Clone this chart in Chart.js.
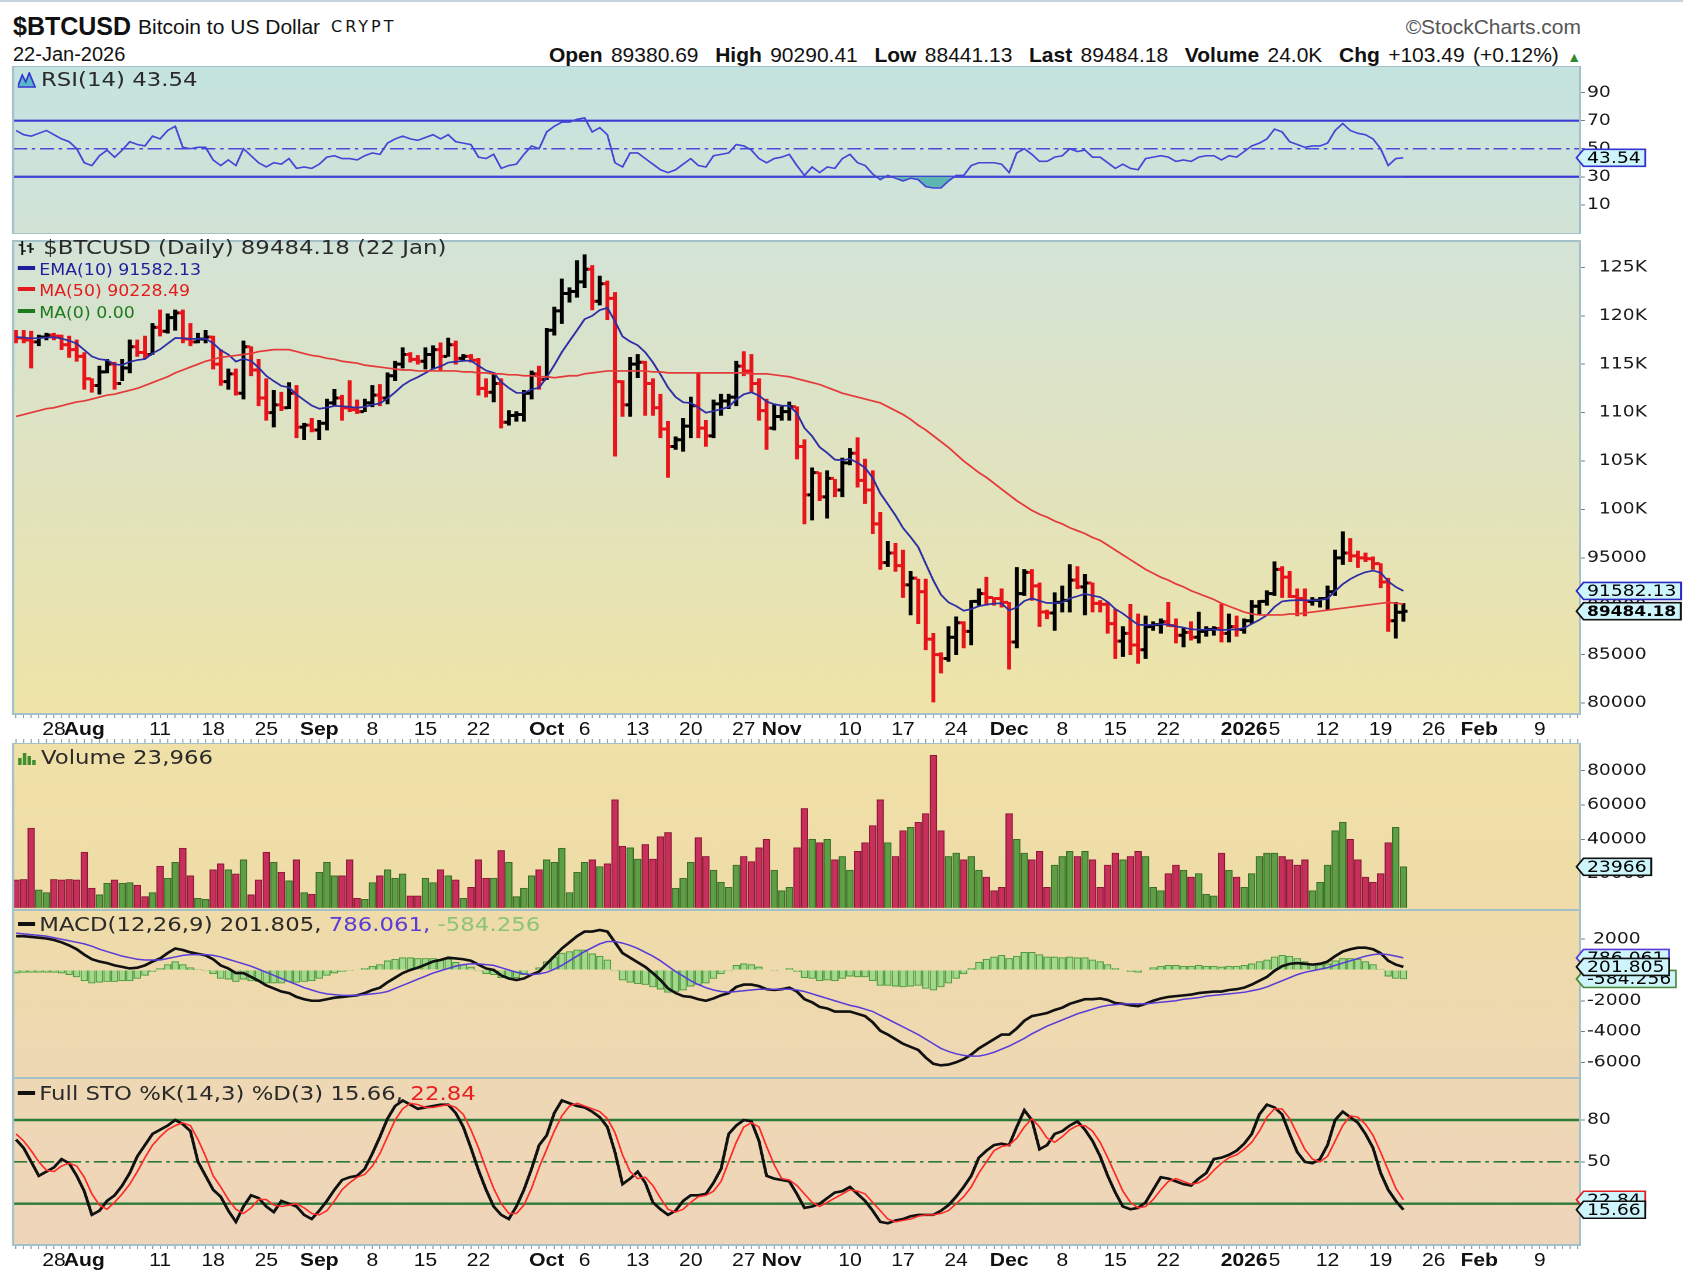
<!DOCTYPE html>
<html><head><meta charset="utf-8">
<script src="https://cdn.jsdelivr.net/npm/chart.js@4.4.1/dist/chart.umd.min.js"></script>
<style>
html,body{margin:0;padding:0;background:#fff}
body{width:1683px;height:1272px;position:relative;overflow:hidden;font-family:"Liberation Sans",Arial,sans-serif;color:#111}
#topline{position:absolute;left:0;top:0;width:1683px;height:2px;background:#c6d4dd}
.hdr{position:absolute;white-space:nowrap;line-height:1}
.hdr b{font-weight:bold}
#stage{position:absolute;left:0;top:0;width:1438px;height:1272px;transform-origin:0 0}
#stage canvas{position:absolute;left:0}
.lg{position:absolute;white-space:nowrap;font-family:"DejaVu Sans",sans-serif;font-size:19.5px;line-height:1;color:#2a2a2a}
.lg.sm{font-family:"DejaVu Sans Condensed","DejaVu Sans",sans-serif;font-size:16.5px}
.dash{display:inline-block;width:15px;height:4px;vertical-align:5px;margin-right:4px}
.lg svg{vertical-align:-2px}
</style></head><body>
<div id="topline"></div>
<div class="hdr" style="left:13px;top:14px;font-size:25px;font-weight:bold">$BTCUSD</div>
<div class="hdr" style="left:138px;top:16px;font-size:21px">Bitcoin to US Dollar</div>
<div class="hdr" style="left:331px;top:19px;font-family:'DejaVu Sans';font-size:16px;letter-spacing:3px">CRYPT</div>
<div class="hdr" style="right:102px;top:16px;font-size:21px;color:#555">©StockCharts.com</div>
<div class="hdr" style="left:13px;top:44px;font-size:20px">22-Jan-2026</div>
<div class="hdr" style="right:102px;top:44px;font-size:21px;word-spacing:2.5px"><b>Open</b> 89380.69&nbsp;&nbsp;<b>High</b> 90290.41&nbsp;&nbsp;<b>Low</b> 88441.13&nbsp;&nbsp;<b>Last</b> 89484.18&nbsp;&nbsp;<b>Volume</b> 24.0K&nbsp;&nbsp;<b>Chg</b> +103.49 (+0.12%) <span style="color:#2e8b2e;font-size:14px">▲</span></div>

<div id="stage">
  <canvas id="cRsi" width="1438" height="168" style="top:66px"></canvas>
  <canvas id="cPrice" width="1438" height="509" style="top:234px"></canvas>
  <canvas id="cVol" width="1438" height="167" style="top:743px"></canvas>
  <canvas id="cMacd" width="1438" height="168" style="top:910px"></canvas>
  <canvas id="cSto" width="1438" height="194" style="top:1078px"></canvas>

  <div class="lg" style="left:15px;top:70px"><svg width="16" height="16" style="margin-right:4px"><polygon points="0,15 4,3 7,10 10,1 15,15" fill="#5ab9c9" stroke="#3636cf" stroke-width="1.5"/></svg>RSI(14) 43.54</div>
  <div class="lg" style="left:15px;top:238px"><svg width="16" height="16" style="margin-right:6px"><path d="M4 1V15M1 5H4M4 11H7M11 3V13M8 6H11M11 9H14" stroke="#111" stroke-width="1.6" fill="none"/></svg>$BTCUSD (Daily) 89484.18 (22 Jan)</div>
  <div class="lg sm" style="left:14.5px;top:262px;color:#1e1e9c"><span class="dash" style="background:#1e1e9c"></span>EMA(10) 91582.13</div>
  <div class="lg sm" style="left:14.5px;top:283px;color:#e21c1c"><span class="dash" style="background:#e21c1c"></span>MA(50) 90228.49</div>
  <div class="lg sm" style="left:14.5px;top:305px;color:#1d7a1d"><span class="dash" style="background:#1d7a1d"></span>MA(0) 0.00</div>
  <div class="lg" style="left:15px;top:748px"><svg width="16" height="16" style="margin-right:4px"><path d="M2 15V8M6 15V3M10 15V6M14 15V10" stroke="#3f8f2f" stroke-width="3"/></svg>Volume 23,966</div>
  <div class="lg" style="left:14.5px;top:915px"><span class="dash" style="background:#111"></span>MACD(12,26,9) 201.805, <span style="color:#5a3cd8">786.061,</span> <span style="color:#8cc57a">-584.256</span></div>
  <div class="lg" style="left:14.5px;top:1084px"><span class="dash" style="background:#111"></span>Full STO %K(14,3) %D(3) 15.66, <span style="color:#e82020">22.84</span></div>
</div>

<script>
// ================= DATA =================
// Daily bars, index 0 = 23-Jul-2025 ... index 183 = 22-Jan-2026
const dayCount = 184;
const tickDays = [5,9,19,26,33,40,47,54,61,70,75,82,89,96,101,110,117,124,131,138,145,152,162,166,173,180,187,193,201];
const tickText = ["28","Aug","11","18","25","Sep","8","15","22","Oct","6","13","20","27","Nov","10","17","24","Dec","8","15","22","2026","5","12","19","26","Feb","9"];
const boldTicks = ["Aug","Sep","Oct","Nov","Dec","2026","Feb"];
const priceTicks = [80,85,90,95,100,105,110,115,120,125];   // USD thousands
const rsiTicks = [10,30,50,70,90];
const volTicks = [20000,40000,60000,80000];
const macdTicks = [-6000,-4000,-2000,0,2000];
const stoTicks = [20,50,80];

// prices in USD thousands
const openK = [
118.0,117.7,117.5,117.3,117.8,118.0,117.9,117.0,116.5,115.8,
113.5,112.8,114.2,115.0,113.0,114.6,116.8,116.2,116.0,118.8,
118.4,119.8,120.3,117.6,117.3,117.6,117.8,115.0,113.2,114.0,
112.0,116.8,114.4,111.5,110.0,110.8,110.5,112.0,108.5,108.7,
108.2,108.9,111.0,111.5,110.5,110.3,110.1,111.0,111.8,111.5,
113.8,115.0,116.0,115.5,115.3,116.0,116.5,115.8,117.0,115.6,
115.8,115.4,112.5,112.1,113.0,109.0,109.7,109.8,112.0,114.0,
113.4,118.5,120.5,122.3,122.5,123.5,124.8,121.5,123.3,121.8,
113.2,110.8,115.0,115.2,113.0,110.5,108.3,106.5,107.2,108.6,
110.7,108.4,107.6,110.9,111.2,111.6,114.8,114.3,113.0,110.2,
108.4,109.6,110.1,110.6,106.5,101.5,103.8,101.3,103.2,102.0,
104.8,105.8,103.0,102.0,98.5,94.5,95.5,94.2,92.2,92.9,
91.5,86.6,85.0,84.6,86.8,88.3,87.4,90.5,91.3,90.9,
90.8,90.4,86.3,91.3,93.5,92.1,89.4,89.3,90.4,90.6,
92.7,92.0,92.4,90.3,90.2,88.2,86.4,87.2,86.0,85.5,
87.9,88.1,88.4,88.0,87.0,87.3,86.8,87.4,87.6,87.7,
87.2,87.9,87.6,88.5,90.0,90.5,91.3,93.8,93.0,91.0,
90.8,90.5,90.6,90.8,91.5,95.0,95.5,95.2,95.0,94.9,
94.4,92.5,88.5,89.38069];
const highK = [
118.5,118.5,118.4,118.0,118.2,118.2,118.0,117.9,117.5,116.2,
113.5,114.8,115.5,115.2,115.5,117.5,117.5,117.9,119.2,120.6,
120.2,120.6,120.6,119.2,118.2,118.5,117.9,116.5,114.5,114.5,
117.4,116.8,115.5,113.5,112.3,112.1,113.1,112.8,108.9,109.4,
109.2,111.4,112.4,111.8,113.3,111.3,111.4,112.8,112.9,114.1,
115.3,116.7,116.2,115.9,116.7,116.9,117.2,117.7,117.4,116.0,
116.0,115.6,113.5,114.1,113.5,110.2,110.1,112.3,114.3,114.8,
118.7,120.9,123.8,122.9,125.7,126.3,125.2,124.1,123.6,122.4,
113.3,115.7,116.0,115.3,113.5,111.9,109.1,107.5,109.4,111.6,
114.1,109.2,111.3,111.9,111.9,115.3,116.3,116.0,113.5,111.4,
110.9,110.6,111.1,110.6,107.2,104.3,103.8,104.0,103.1,105.3,
106.3,107.4,105.2,104.0,99.7,96.7,96.5,95.8,93.6,92.8,
92.8,87.2,85.2,87.9,88.9,88.4,90.6,91.8,93.0,90.9,
91.8,90.4,94.0,93.8,93.8,92.4,89.6,91.4,92.1,94.3,
94.1,93.3,92.4,90.6,90.4,89.7,87.9,90.2,89.2,89.0,
88.4,88.7,90.4,88.7,87.7,88.4,89.4,87.9,87.9,90.2,
89.2,89.0,88.7,90.6,90.6,91.6,94.6,94.1,93.6,91.8,
91.8,90.9,90.9,92.1,95.8,97.7,97.0,95.7,95.5,95.1,
94.4,92.9,90.4,90.29041];
const lowK = [
117.2,117.2,114.6,116.9,117.5,117.5,116.5,115.7,115.3,112.4,
112.1,111.9,114.1,112.4,113.3,114.1,115.8,115.6,116.0,117.9,
118.2,118.5,117.2,116.9,117.2,117.2,114.5,112.8,112.4,111.8,
111.4,113.8,110.7,109.2,108.5,110.2,110.4,107.4,107.2,108.0,
107.2,108.2,110.7,109.2,110.1,109.9,110.1,110.6,110.7,110.9,
113.3,114.6,115.2,115.0,114.5,114.5,114.3,115.8,115.0,115.3,
115.2,111.8,111.6,111.1,108.4,108.7,109.1,109.1,111.4,112.4,
113.4,118.0,119.2,121.4,121.9,122.9,120.6,121.1,119.6,105.5,
109.6,109.6,113.6,109.7,109.7,107.4,103.3,106.2,106.0,107.4,
107.4,106.5,107.4,109.7,110.4,110.7,113.8,112.1,109.2,106.2,
108.2,109.2,109.2,105.2,98.5,98.9,100.9,99.1,101.3,101.3,
104.6,102.3,100.6,97.5,93.8,94.1,93.6,90.9,89.1,88.2,
85.5,80.1,83.1,84.3,85.0,85.7,86.0,90.1,90.1,90.1,
89.9,83.5,85.7,91.1,90.6,87.9,88.7,87.5,89.4,89.4,
91.8,89.1,89.4,89.4,87.2,84.6,84.8,85.0,84.1,84.6,
87.5,87.2,87.9,86.2,85.8,86.5,86.2,86.9,87.0,86.3,
86.3,86.9,87.2,88.2,89.2,90.1,91.1,90.9,90.9,89.0,
89.0,90.1,89.9,89.7,91.1,94.3,94.6,94.0,94.6,93.8,
91.9,87.4,86.7,88.44113];
const closeK = [
117.7,117.5,117.3,117.8,118.0,117.9,117.0,116.5,115.8,113.5,
112.8,114.2,115.0,113.0,114.6,116.8,116.2,116.0,118.8,118.4,
119.8,120.3,117.6,117.3,117.6,117.8,115.0,113.2,114.0,112.0,
116.8,114.4,111.5,110.0,110.8,110.5,112.0,108.5,108.7,108.2,
108.9,111.0,111.5,110.5,110.3,110.1,111.0,111.8,111.5,113.8,
115.0,116.0,115.5,115.3,116.0,116.5,115.8,117.0,115.6,115.8,
115.4,112.5,112.1,113.0,109.0,109.7,109.8,112.0,114.0,113.4,
118.5,120.5,122.3,122.5,123.5,124.8,121.5,123.3,121.8,113.2,
110.8,115.0,115.2,113.0,110.5,108.3,106.5,107.2,108.6,110.7,
108.4,107.6,110.9,111.2,111.6,114.8,114.3,113.0,110.2,108.4,
109.6,110.1,110.6,106.5,101.5,103.8,101.3,103.2,102.0,104.8,
105.8,103.0,102.0,98.5,94.5,95.5,94.2,92.2,92.9,91.5,
86.6,85.0,84.6,86.8,88.3,87.4,90.5,91.3,90.9,90.8,
90.4,86.3,91.3,93.5,92.1,89.4,89.3,90.4,90.6,92.7,
92.0,92.4,90.3,90.2,88.2,86.4,87.2,86.0,85.5,87.9,
88.1,88.4,88.0,87.0,87.3,86.8,87.4,87.6,87.7,87.2,
87.9,87.6,88.5,90.0,90.5,91.3,93.8,93.0,91.0,90.8,
90.5,90.6,90.8,91.5,95.0,95.5,95.2,95.0,94.9,94.4,
92.5,88.5,89.38069,89.48418];
const ema10K = [
117.80,117.75,117.67,117.69,117.75,117.78,117.64,117.43,117.13,116.47,
115.80,115.51,115.42,114.98,114.91,115.25,115.42,115.53,116.12,116.53,
117.12,117.70,117.68,117.61,117.61,117.64,117.16,116.44,116.00,115.27,
115.55,115.34,114.64,113.80,113.25,112.75,112.61,111.86,111.29,110.73,
110.40,110.51,110.69,110.66,110.59,110.50,110.59,110.81,110.94,111.46,
112.10,112.81,113.30,113.66,114.09,114.53,114.76,115.17,115.25,115.35,
115.36,114.84,114.34,114.10,113.17,112.54,112.04,112.03,112.39,112.57,
113.65,114.90,116.25,117.39,118.50,119.65,119.99,120.59,120.81,119.43,
117.86,117.34,116.95,116.23,115.19,113.94,112.59,111.61,111.06,110.99,
110.52,109.99,110.16,110.35,110.58,111.35,111.89,112.09,111.75,111.14,
110.86,110.72,110.70,109.94,108.41,107.57,106.43,105.84,105.14,105.08,
105.21,104.81,104.30,103.25,101.66,100.54,99.39,98.08,97.14,96.11,
94.38,92.67,91.20,90.40,90.02,89.54,89.71,90.00,90.16,90.28,
90.30,89.57,89.88,90.54,90.82,90.56,90.33,90.34,90.39,90.81,
91.03,91.28,91.10,90.94,90.44,89.71,89.25,88.66,88.09,88.06,
88.07,88.13,88.11,87.91,87.80,87.62,87.58,87.58,87.60,87.53,
87.60,87.60,87.76,88.17,88.59,89.08,89.94,90.50,90.59,90.63,
90.61,90.61,90.64,90.80,91.56,92.28,92.81,93.21,93.52,93.68,
93.47,92.57,91.99,91.58213];
const ma50K = [
109.6,109.8,110.0,110.2,110.4,110.5,110.7,110.9,111.1,111.2,
111.4,111.6,111.8,111.9,112.1,112.3,112.5,112.8,113.1,113.4,
113.7,114.1,114.4,114.7,115.0,115.3,115.5,115.7,115.8,115.9,
116.0,116.1,116.3,116.4,116.5,116.5,116.5,116.3,116.1,115.9,
115.8,115.6,115.5,115.3,115.2,115.1,114.9,114.8,114.7,114.6,
114.5,114.4,114.4,114.3,114.3,114.3,114.3,114.3,114.3,114.2,
114.2,114.1,114.1,114.0,114.0,113.9,113.9,113.8,113.8,113.7,
113.7,113.6,113.7,113.8,113.8,114.0,114.1,114.2,114.3,114.3,
114.3,114.3,114.3,114.3,114.2,114.2,114.1,114.1,114.1,114.1,
114.1,114.1,114.1,114.1,114.1,114.1,114.1,114.0,114.0,114.0,
113.9,113.8,113.7,113.5,113.3,113.1,112.9,112.6,112.3,112.0,
111.8,111.6,111.4,111.2,111.0,110.6,110.2,109.8,109.3,108.7,
108.2,107.6,107.0,106.4,105.7,105.0,104.4,103.8,103.3,102.7,
102.1,101.5,100.9,100.4,99.9,99.5,99.2,98.8,98.5,98.1,
97.8,97.5,97.1,96.8,96.3,95.8,95.3,94.8,94.3,93.8,
93.4,93.0,92.7,92.3,92.0,91.6,91.3,91.0,90.7,90.3,
90.0,89.7,89.4,89.2,89.1,89.1,89.1,89.1,89.2,89.2,
89.3,89.4,89.5,89.6,89.7,89.8,89.9,90.0,90.1,90.2,
90.3,90.4,90.3,90.22849];
const rsi14 = [
63,60,59,61,63,60,57,55,50,40,
38,45,49,44,49,55,53,52,59,57,
63,66,51,50,51,51,42,38,42,38,
50,45,40,37,40,39,43,36,37,36,
39,44,45,43,43,42,45,47,46,54,
57,59,57,56,58,60,57,60,55,54,
53,44,43,46,36,38,39,46,52,50,
62,66,69,69,71,72,62,65,60,40,
37,47,47,43,39,35,33,35,39,43,
38,37,45,46,47,53,52,49,43,40,
43,44,46,38,31,37,33,37,36,43,
46,40,38,32,28,31,29,27,29,28,
23,22,22,27,31,31,38,40,40,40,
39,33,47,50,46,41,41,44,45,50,
48,49,44,44,40,36,39,36,35,43,
44,45,44,41,42,41,44,45,45,42,
45,44,48,52,54,57,64,62,55,53,
51,52,52,54,63,68,63,61,60,57,
50,38,43,43.54];
const volume = [
16300,16600,46500,10500,8900,16600,16300,16600,16300,32500,
11500,7600,14400,16300,14400,14800,13200,6600,8900,24300,
17300,26600,34800,18700,5600,5000,22200,25700,22200,19800,
28000,7600,16300,32500,26600,20800,15800,28000,8900,8000,
20800,26600,18700,18700,28000,5600,5000,14800,18700,22200,
17300,19800,7000,7000,17300,14800,22200,18700,16300,5600,
12000,28000,17300,17300,33500,26600,6600,11500,18700,22200,
28000,26600,34800,8900,20800,26600,28000,24100,25700,63000,
36000,35000,28500,37000,28500,41500,44000,11500,17300,26600,
41000,30000,22000,15000,12000,25000,30000,27000,35000,40000,
22000,10000,12000,35000,58000,40000,38000,40000,28000,30000,
22000,33000,38000,48000,63000,38000,30000,45000,47000,50000,
55000,89000,45000,30000,32000,28000,30000,22000,18000,10000,
12000,55000,40000,32000,28000,33000,12000,25000,30000,33000,
30000,33000,28000,12000,25000,32000,28000,30000,33000,30000,
12000,10000,20000,25000,22000,18000,20000,8000,7000,32000,
22000,18000,12000,20000,30000,32000,32000,30000,28000,25000,
28000,10000,15000,25000,45000,50000,40000,28000,18000,15000,
20000,38000,47000,23966];
const macdLine = [
2200,2200,2150,2100,2050,1950,1800,1600,1350,1000,
700,550,450,300,200,100,150,300,550,750,
1100,1400,1300,1150,1050,950,700,300,100,-200,
-200,-450,-700,-1000,-1200,-1400,-1500,-1750,-1900,-2000,
-2000,-1900,-1800,-1750,-1700,-1650,-1500,-1300,-1150,-800,
-500,-200,0,150,350,550,650,800,750,700,
600,350,100,0,-350,-550,-650,-550,-300,-100,
400,900,1400,1800,2200,2500,2500,2600,2500,1800,
1100,800,500,200,-200,-650,-1200,-1500,-1700,-1750,
-1900,-2000,-1850,-1650,-1500,-1100,-950,-950,-1050,-1250,
-1300,-1250,-1150,-1400,-1900,-2100,-2400,-2500,-2700,-2700,
-2700,-2850,-3000,-3400,-3950,-4200,-4500,-4800,-5000,-5200,
-5700,-6100,-6200,-6150,-6000,-5800,-5500,-5100,-4800,-4500,
-4200,-4200,-3800,-3300,-3000,-2900,-2800,-2600,-2450,-2200,
-2050,-1900,-1900,-1850,-1950,-2150,-2200,-2300,-2350,-2200,
-2000,-1850,-1750,-1700,-1650,-1600,-1500,-1450,-1400,-1400,
-1300,-1250,-1150,-950,-700,-450,-50,250,400,450,
400,350,400,550,900,1200,1350,1450,1450,1350,
1100,600,350,201.805];
const macdSignal = [
2400,2350,2300,2250,2200,2100,2000,1900,1800,1700,
1550,1350,1200,1050,900,800,700,650,650,650,
750,850,950,1000,1000,1000,950,850,700,550,
400,250,50,-150,-350,-550,-750,-950,-1150,-1300,
-1450,-1550,-1600,-1650,-1650,-1650,-1600,-1550,-1500,-1400,
-1200,-1000,-800,-600,-400,-200,-50,100,250,350,
400,400,350,300,150,0,-150,-250,-300,-250,
-150,50,300,600,900,1200,1450,1700,1850,1850,
1750,1600,1400,1150,900,600,250,-100,-400,-700,
-950,-1150,-1300,-1400,-1450,-1400,-1350,-1300,-1250,-1250,
-1250,-1250,-1250,-1300,-1400,-1550,-1700,-1850,-2000,-2150,
-2300,-2400,-2550,-2700,-2950,-3200,-3450,-3700,-3950,-4200,
-4500,-4800,-5100,-5300,-5450,-5550,-5600,-5600,-5500,-5350,
-5150,-4950,-4700,-4450,-4150,-3900,-3650,-3450,-3250,-3050,
-2850,-2700,-2550,-2400,-2300,-2250,-2200,-2200,-2200,-2200,
-2150,-2100,-2050,-2000,-1900,-1850,-1800,-1700,-1650,-1600,
-1550,-1500,-1450,-1350,-1250,-1100,-900,-700,-500,-300,
-150,-50,50,150,300,450,600,750,900,1000,
1050,1000,900,786.061];
const stoK = [
66,60,50,40,43,46,52,49,40,29,
12,15,22,26,33,42,54,62,70,73,
76,80,77,72,50,40,30,25,15,7,
18,26,24,18,14,22,20,18,12,9,
15,22,30,37,39,40,45,56,68,81,
90,94,91,88,89,90,91,91,85,75,
60,44,30,18,12,9,18,30,45,62,
69,85,94,92,90,89,86,82,75,57,
34,38,43,35,21,16,12,15,22,26,
26,27,35,45,70,76,80,79,65,40,
38,37,36,27,17,18,20,24,28,29,
32,27,22,15,7,6,8,9,11,12,
12,12,15,19,25,32,40,53,58,62,
63,62,75,87,80,59,62,70,72,76,
79,73,65,54,40,28,18,16,17,21,
30,39,38,36,34,33,38,42,52,53,
55,58,63,70,84,91,89,84,70,57,
50,49,52,62,80,86,82,78,70,60,
42,30,22,15.66];
const stoD = [
70,65,58,50,44,43,47,49,47,39,
27,19,16,21,27,34,43,53,62,68,
73,76,78,76,66,54,40,32,23,16,
13,17,23,23,19,18,19,20,17,13,
12,15,22,30,35,39,41,47,56,68,
80,88,92,91,89,89,90,91,89,84,
73,60,45,31,20,13,13,19,31,46,
59,72,83,90,92,90,88,86,81,71,
55,43,38,39,33,24,16,14,16,21,
25,26,29,36,50,64,75,78,75,61,
48,38,37,33,27,21,18,21,24,27,
30,29,27,21,15,9,7,8,9,11,
12,12,13,15,20,25,32,42,50,58,
61,62,67,75,81,75,67,64,68,73,
76,76,72,64,53,41,29,21,17,18,
23,30,36,38,36,34,35,38,44,49,
53,55,59,64,72,82,88,88,81,70,
59,52,50,54,65,76,83,82,77,69,
57,44,31,22.84];

// ================= LAYOUT =================
const W = 1438, SX = 1683 / W;
document.getElementById('stage').style.transform = 'scaleX(' + SX + ')';
const PL = 13 / SX, PR = 1580 / SX, YW = W - PR;
const XMIN = -0.4, XMAX = 206.3;
const days = Array.from({length: dayCount}, (_, i) => i);

Chart.defaults.font.family = 'DejaVu Sans';
Chart.defaults.animation = false;

const isUp = days.map(i => i === 0 ? closeK[0] >= openK[0] : closeK[i] >= closeK[i - 1]);

function panel(top, bottom, tags, strip) {
  return {
    id: 'panel',
    beforeDraw(chart) {
      const {ctx, chartArea: r} = chart;
      const g = ctx.createLinearGradient(0, r.top, 0, r.bottom);
      g.addColorStop(0, top); g.addColorStop(1, bottom);
      ctx.save(); ctx.fillStyle = g;
      ctx.fillRect(r.left, r.top, r.right - r.left, r.bottom - r.top);
      ctx.restore();
    },
    afterDraw(chart) {
      const {ctx, chartArea: r} = chart;
      ctx.save();
      ctx.strokeStyle = '#a4c0c9'; ctx.lineWidth = 2;
      ctx.strokeRect(r.left, r.top, r.right - r.left, r.bottom - r.top);
      if (strip) {
        const xs = chart.scales.x;
        ctx.strokeStyle = '#8aa3ad'; ctx.lineWidth = 1; ctx.beginPath();
        for (let d = 0; d <= Math.floor(XMAX); d++) {
          const x = xs.getPixelForValue(d);
          ctx.moveTo(x, chart.height - 4); ctx.lineTo(x, chart.height);
        }
        ctx.stroke();
      }
      tags.forEach(t => {
        const y = chart.scales.y.getPixelForValue(t.v);
        ctx.font = (t.bold ? 'bold 14.5px' : '16px') + ' "DejaVu Sans"';
        const tw = ctx.measureText(t.text).width;
        const h = 17, x0 = r.right - 3, x1 = x0 + 6, x2 = x1 + tw + 7;
        ctx.beginPath();
        ctx.moveTo(x0, y); ctx.lineTo(x1, y - h / 2); ctx.lineTo(x2, y - h / 2);
        ctx.lineTo(x2, y + h / 2); ctx.lineTo(x1, y + h / 2); ctx.closePath();
        ctx.fillStyle = '#cdf5fb'; ctx.fill();
        ctx.lineWidth = 1.6; ctx.strokeStyle = t.color; ctx.stroke();
        ctx.fillStyle = '#000'; ctx.textBaseline = 'middle'; ctx.textAlign = 'left';
        ctx.fillText(t.text, x1 + 3, y + 1);
      });
      ctx.restore();
    }
  };
}

function xAxis(show, h) {
  return {
    type: 'linear', min: XMIN, max: XMAX, offset: false, display: show,
    afterBuildTicks(s) { const t = []; for (let d = 0; d <= Math.floor(XMAX); d++) t.push({value: d}); s.ticks = t; },
    afterFit(s) { if (show) s.height = h; s.paddingLeft = 0; s.paddingRight = 0; },
    ticks: {
      autoSkip: false, maxRotation: 0, minRotation: 0, padding: 1, color: '#111',
      callback: (v) => { const k = tickDays.indexOf(v); return k < 0 ? '' : tickText[k]; },
      font: (c) => {
        const v = c.tick ? c.tick.value : null; const k = tickDays.indexOf(v);
        const b = k >= 0 && boldTicks.includes(tickText[k]);
        return {family: 'Liberation Sans', size: 18, weight: b ? 'bold' : 'normal'};
      }
    },
    grid: {drawOnChartArea: false, drawTicks: true, tickLength: 4, color: '#8aa3ad', offset: false},
    border: {display: false}
  };
}
function yAxis(min, max, ticks, fmt) {
  return {
    position: 'right', min, max,
    afterFit(s) { s.width = YW; s.paddingTop = 0; s.paddingBottom = 0; },
    afterBuildTicks(s) { s.ticks = ticks.map(v => ({value: v})); },
    ticks: {font: {family: 'DejaVu Sans', size: 16}, color: '#1a1a1a', padding: 2,
            crossAlign: 'near', callback: fmt || (v => String(v))},
    grid: {drawOnChartArea: false, drawTicks: true, tickLength: 4, color: '#6f8088'},
    border: {display: false}
  };
}
function series(arr, color, width, extra) {
  return Object.assign({type: 'line', data: days.map(i => ({x: i, y: arr[i]})), borderColor: color,
    borderWidth: width, pointRadius: 0, tension: 0, fill: false, order: 0}, extra || {});
}
function level(v, color, width, dash) {
  return {type: 'line', data: [{x: XMIN, y: v}, {x: XMAX, y: v}], borderColor: color, borderWidth: width,
    borderDash: dash || [], pointRadius: 0, fill: false, order: 3};
}
function baseOptions(scales) {
  return {
    responsive: false, maintainAspectRatio: false, devicePixelRatio: 2, animation: false, events: [],
    layout: {padding: {left: PL, right: 0, top: 0, bottom: 0}},
    plugins: {legend: {display: false}, tooltip: {enabled: false}},
    scales
  };
}

// ---------- RSI ----------
new Chart(document.getElementById('cRsi'), {
  type: 'line',
  data: {datasets: [
    level(70, '#3b3bd3', 2.2), level(30, '#3b3bd3', 2.2), level(50, '#4a4ad8', 1.6, [12, 4, 3, 4]),
    series(rsi14, '#4646d6', 1.6, {fill: {target: {value: 30}, above: 'rgba(0,0,0,0)', below: '#5db6b2'}})
  ]},
  options: baseOptions({x: xAxis(false), y: yAxis(-10.8, 109, rsiTicks)}),
  plugins: [panel('#c4e3e0', '#d3e3d6', [{v: 43.54, text: '43.54', color: '#3434d0'}], false)]
});

// ---------- PRICE ----------
const barCol = isUp.map(u => u ? '#000000' : '#e8141b');
new Chart(document.getElementById('cPrice'), {
  type: 'bar',
  data: {datasets: [
    {type: 'bar', data: days.map(i => ({x: i, y: [lowK[i], highK[i]]})), backgroundColor: barCol,
     borderWidth: 0, barThickness: 2.7, order: 2},
    {type: 'line', data: days.map(i => ({x: i - 0.34, y: openK[i]})), showLine: false, pointStyle: 'line',
     pointRadius: 1.4, pointBorderWidth: 3, pointBorderColor: barCol, pointBackgroundColor: barCol, order: 1},
    {type: 'line', data: days.map(i => ({x: i + 0.34, y: closeK[i]})), showLine: false, pointStyle: 'line',
     pointRadius: 1.4, pointBorderWidth: 3, pointBorderColor: barCol, pointBackgroundColor: barCol, order: 1},
    series(ma50K, '#e43a3a', 1.7),
    series(ema10K, '#2d2da6', 1.7)
  ]},
  options: baseOptions({
    x: xAxis(true, 29),
    y: yAxis(78.87, 127.72, priceTicks, v => v >= 100 ? '\u2007' + v + 'K' : String(v * 1000))
  }),
  plugins: [panel('#d3e3d6', '#efe4a7', [
    {v: ema10K[dayCount - 1], text: '91582.13', color: '#2b2bc0'},
    {v: closeK[dayCount - 1], text: '89484.18', color: '#111', bold: true}
  ], true)]
});

// ---------- VOLUME ----------
new Chart(document.getElementById('cVol'), {
  type: 'bar',
  data: {datasets: [{
    type: 'bar', data: days.map(i => ({x: i, y: volume[i]})),
    backgroundColor: isUp.map(u => u ? '#5e9e44' : '#c7305a'),
    borderColor: isUp.map(u => u ? '#3b6c29' : '#8c1838'), borderWidth: 1, barThickness: 5.7
  }]},
  options: baseOptions({x: xAxis(false), y: yAxis(-1224, 96150, volTicks)}),
  plugins: [panel('#efe1a7', '#efdca9', [{v: volume[dayCount - 1], text: '23966', color: '#111'}], false)]
});

// ---------- MACD ----------
const macdHist = days.map(i => macdLine[i] - macdSignal[i]);
new Chart(document.getElementById('cMacd'), {
  type: 'bar',
  data: {datasets: [
    {type: 'bar', data: days.map(i => ({x: i, y: macdHist[i]})), backgroundColor: '#a3d88f',
     borderColor: '#4f9b3c', borderWidth: 1, barThickness: 5.7, order: 2},
    series(macdSignal, '#5a3cd8', 1.5),
    series(macdLine, '#111111', 2.6)
  ]},
  options: baseOptions({x: xAxis(false), y: yAxis(-7024, 3902, macdTicks, v => v > 0 ? '\u2008' + v : String(v))}),
  plugins: [panel('#efdca9', '#eed8b4', [
    {v: macdSignal[dayCount - 1], text: '786.061', color: '#5a3cd8'},
    {v: macdHist[dayCount - 1], text: '-584.256', color: '#4f8a3c'},
    {v: macdLine[dayCount - 1], text: '201.805', color: '#111'}
  ], false)]
});

// ---------- FULL STOCHASTICS ----------
new Chart(document.getElementById('cSto'), {
  type: 'line',
  data: {datasets: [
    level(80, '#2b7a3a', 2.4), level(20, '#2b7a3a', 2.4), level(50, '#2b7a3a', 1.6, [12, 4, 3, 4]),
    series(stoD, '#ff2a2a', 1.5),
    series(stoK, '#111111', 2.6)
  ]},
  options: baseOptions({x: xAxis(true, 27), y: yAxis(-9.6, 110.1, stoTicks)}),
  plugins: [panel('#eed8b4', '#eed5ba', [
    {v: stoD[dayCount - 1], text: '22.84', color: '#e02020'},
    {v: stoK[dayCount - 1], text: '15.66', color: '#111'}
  ], false)]
});
</script>
</body></html>
